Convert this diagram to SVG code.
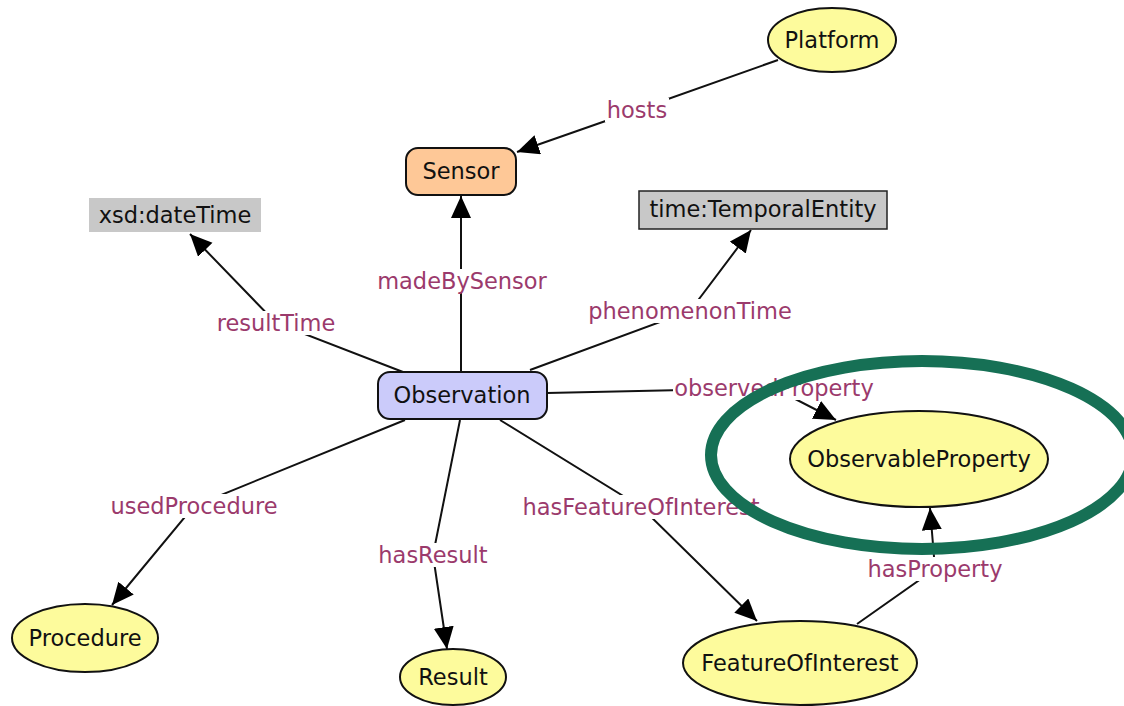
<svg xmlns="http://www.w3.org/2000/svg" width="1124" height="706" viewBox="0 0 1124 706">
  <style>
    .edge { fill: none; stroke: #111; stroke-width: 2; marker-end: url(#arrow); }
    .lbl-bg { fill: #ffffff; }
    .lbl { font-family: "DejaVu Sans", Verdana, sans-serif; font-size: 22.5px; fill: #9b3a6c; text-anchor: middle; }
    .txt { font-family: "DejaVu Sans", Verdana, sans-serif; font-size: 22.5px; fill: #111; text-anchor: middle; }
    .cls { fill: #fdfb9c; stroke: #111; stroke-width: 2; }
    .lit { fill: #c8c8c8; }
  </style>
  <defs>
    <marker id="arrow" markerUnits="userSpaceOnUse" markerWidth="24" markerHeight="22" refX="22" refY="10" orient="auto">
      <path d="M0,0 L22,10 L0,20 Z" fill="#000"/>
    </marker>
  </defs>
  <rect width="1124" height="706" fill="#ffffff"/>

  <!-- connectors: each runs through its label, the label box hides the middle -->
  <g id="connectors">
    <polyline class="edge" points="778,60 637,110 517,152"/>
    <polyline class="edge" points="461,372 461,281 461,196"/>
    <polyline class="edge" points="403,372 276,323 190,234"/>
    <polyline class="edge" points="530,370 690,311 751,230"/>
    <polyline class="edge" points="547,393 774,388 836,420"/>
    <polyline class="edge" points="405,420 194,506 112,605"/>
    <polyline class="edge" points="460,420 433,555 447,649"/>
    <polyline class="edge" points="500,420 641,507 757,621"/>
    <polyline class="edge" points="857,624 935,569 930,508"/>

    <g id="edge-labels">
      <rect class="lbl-bg" x="605" y="98" width="64" height="24"/>
      <text class="lbl" x="637" y="118">hosts</text>
      <rect class="lbl-bg" x="376" y="269" width="172" height="24"/>
      <text class="lbl" x="462" y="289">madeBySensor</text>
      <rect class="lbl-bg" x="216" y="311" width="120" height="24"/>
      <text class="lbl" x="276" y="331">resultTime</text>
      <rect class="lbl-bg" x="586" y="299" width="208" height="24"/>
      <text class="lbl" x="690" y="319">phenomenonTime</text>
      <rect class="lbl-bg" x="673" y="376" width="202" height="24"/>
      <text class="lbl" x="774" y="396">observedProperty</text>
      <rect class="lbl-bg" x="110" y="494" width="168" height="24"/>
      <text class="lbl" x="194" y="514">usedProcedure</text>
      <rect class="lbl-bg" x="378" y="543" width="110" height="24"/>
      <text class="lbl" x="433" y="563">hasResult</text>
      <rect class="lbl-bg" x="520" y="495" width="242" height="24"/>
      <text class="lbl" x="641" y="515">hasFeatureOfInterest</text>
      <rect class="lbl-bg" x="868" y="557" width="134" height="24"/>
      <text class="lbl" x="935" y="577">hasProperty</text>
    </g>
  </g>

  <g id="platform">
    <ellipse class="cls" cx="832" cy="40" rx="64" ry="32"/>
    <text class="txt" x="832" y="48">Platform</text>
  </g>

  <g id="sensor">
    <rect x="406" y="148" width="110" height="47" rx="12" fill="#fec897" stroke="#111" stroke-width="2"/>
    <text class="txt" x="461" y="179">Sensor</text>
  </g>

  <g id="xsd-dateTime">
    <rect class="lit" x="89" y="198" width="172" height="34"/>
    <text class="txt" x="175" y="223">xsd:dateTime</text>
  </g>

  <g id="time-TemporalEntity">
    <rect class="lit" x="639" y="191" width="248" height="38" stroke="#222" stroke-width="1.5"/>
    <text class="txt" x="763" y="217">time:TemporalEntity</text>
  </g>

  <g id="observation">
    <rect x="378" y="372" width="169" height="47" rx="12" fill="#cbcbfa" stroke="#111" stroke-width="2"/>
    <text class="txt" x="462" y="403">Observation</text>
  </g>

  <g id="observableProperty">
    <ellipse class="cls" cx="919" cy="459" rx="129" ry="48"/>
    <text class="txt" x="919" y="467">ObservableProperty</text>
  </g>

  <g id="procedure">
    <ellipse class="cls" cx="85" cy="638" rx="73" ry="34"/>
    <text class="txt" x="85" y="646">Procedure</text>
  </g>

  <g id="result">
    <ellipse class="cls" cx="453" cy="677" rx="53" ry="28"/>
    <text class="txt" x="453" y="685">Result</text>
  </g>

  <g id="featureOfInterest">
    <ellipse class="cls" cx="800" cy="663" rx="117" ry="42"/>
    <text class="txt" x="800" y="671">FeatureOfInterest</text>
  </g>

  <!-- highlight ring around ObservableProperty -->
  <ellipse id="highlight" cx="922" cy="455" rx="211" ry="94" fill="none" stroke="#167055" stroke-width="12"/>
</svg>
